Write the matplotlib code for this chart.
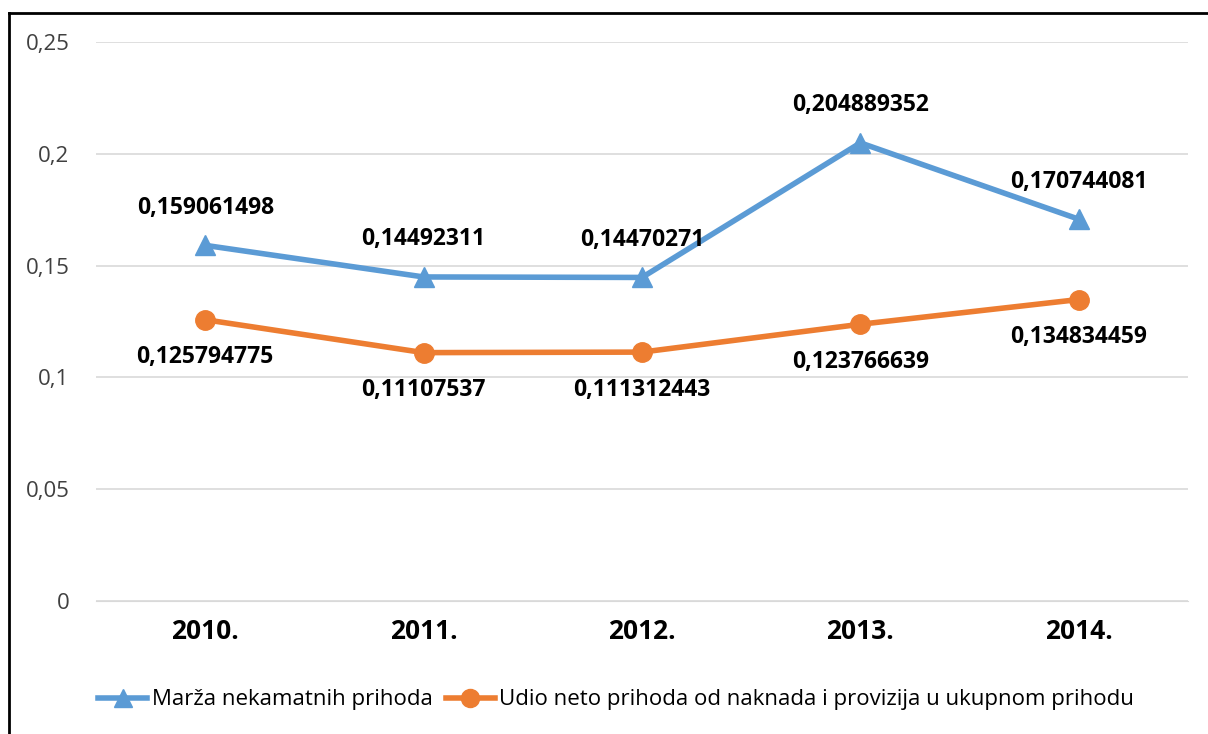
import matplotlib.pyplot as plt
from matplotlib.lines import Line2D

plt.rcParams['font.family'] = ['Open Sans', 'DejaVu Sans']

years = ['2010.', '2011.', '2012.', '2013.', '2014.']
marza = [0.159061498, 0.14492311, 0.14470271, 0.204889352, 0.170744081]
udio = [0.125794775, 0.11107537, 0.111312443, 0.123766639, 0.134834459]
marza_labels = ['0,159061498', '0,14492311', '0,14470271', '0,204889352', '0,170744081']
udio_labels = ['0,125794775', '0,11107537', '0,111312443', '0,123766639', '0,134834459']
yticks = [0, 0.05, 0.1, 0.15, 0.2, 0.25]
ytick_labels = ['0', '0,05', '0,1', '0,15', '0,2', '0,25']

blue = '#5B9BD5'
orange = '#ED7D31'

fig = plt.figure(figsize=(12.08, 7.34), dpi=100)
ax = fig.add_axes([96 / 1208, 1 - 601 / 734, 1092 / 1208, 559 / 734])

x = list(range(len(years)))
ax.plot(x, marza, color=blue, lw=4, marker='^', ms=14, zorder=3)
ax.plot(x, udio, color=orange, lw=4, marker='o', ms=14, zorder=3)

# data labels: blue above, orange below
for i in x:
    ax.annotate(marza_labels[i], (i, marza[i]), xytext=(0, 27), textcoords='offset points',
                ha='center', va='center', fontsize=16.5, fontweight='bold', color='#000000')
    ax.annotate(udio_labels[i], (i, udio[i]), xytext=(0, -27), textcoords='offset points',
                ha='center', va='center', fontsize=16.5, fontweight='bold', color='#000000')

ax.set_xlim(-0.5, 4.5)
ax.set_ylim(0, 0.25)
ax.set_yticks(yticks)
ax.set_yticklabels(ytick_labels, fontsize=16, color='#404040')
ax.set_xticks(x)
ax.set_xticklabels(years, fontsize=19, fontweight='bold', color='#000000')
ax.tick_params(axis='y', length=0, pad=19)
ax.tick_params(axis='x', length=0, pad=12)
ax.grid(axis='y', color='#D9D9D9', lw=1.2)
ax.set_axisbelow(True)
for s in ax.spines.values():
    s.set_visible(False)
ax.spines['bottom'].set_visible(True)
ax.spines['bottom'].set_color('#D9D9D9')

handles = [Line2D([], [], color=blue, lw=4, marker='^', ms=13),
           Line2D([], [], color=orange, lw=4, marker='o', ms=13)]
fig.legend(handles, ['Marža nekamatnih prihoda',
                     'Udio neto prihoda od naknada i provizija u ukupnom prihodu'],
           loc='center', bbox_to_anchor=(0.51, 1 - 700 / 734), ncol=2, frameon=False,
           fontsize=16, handlelength=2.2, handletextpad=0.2, columnspacing=0.6)

# frame: only top and left edges visible
fig.add_artist(Line2D([9 / 1208, 9 / 1208], [0, 1 - 13 / 734], color='black', lw=2))
fig.add_artist(Line2D([9 / 1208, 1], [1 - 13 / 734, 1 - 13 / 734], color='black', lw=2))

fig.savefig('out.png', dpi=100)
